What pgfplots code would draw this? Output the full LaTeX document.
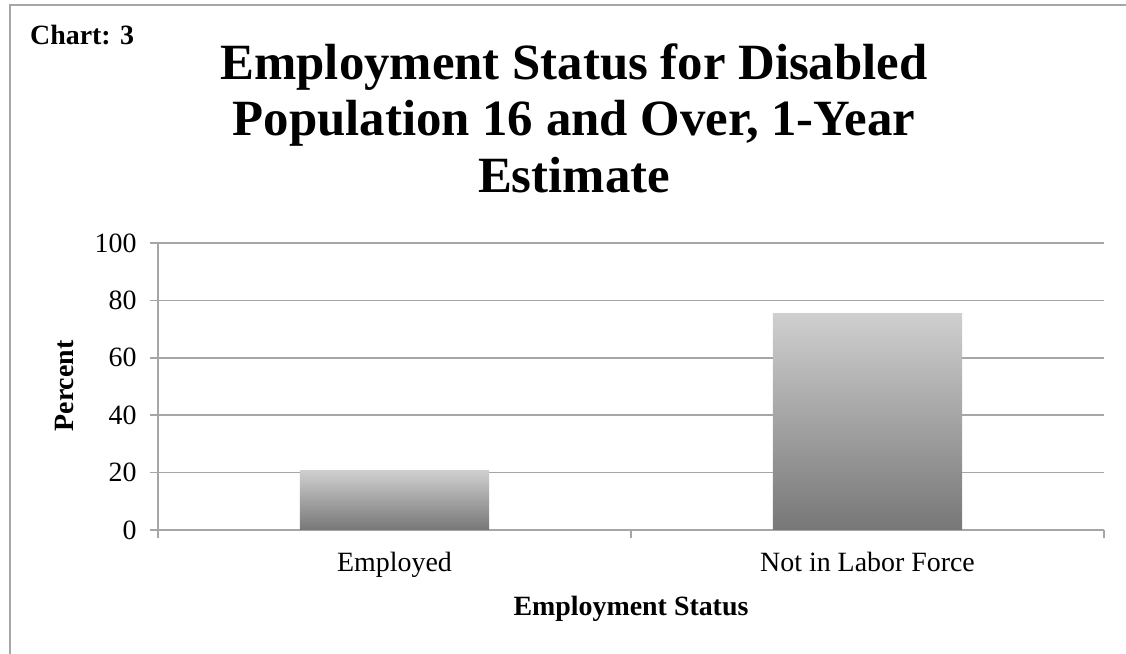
\documentclass[border=0pt]{standalone}
\usepackage{pgfplots}
\pgfplotsset{compat=1.18}
\usepackage{fontspec}
\setmainfont{Liberation Serif}
\definecolor{gridc}{HTML}{A6A6A6}
\definecolor{bartop}{HTML}{CFCFCF}
\definecolor{barbot}{HTML}{777777}
\begin{document}
\begin{tikzpicture}
\useasboundingbox (0,0) rectangle (1126bp,654bp);
\draw[color=gridc, line width=1.5bp] (10bp,0) -- (10bp,649bp) -- (1126bp,649bp);
\node[anchor=base west, inner sep=0, font=\bfseries\fontsize{28}{32}\selectfont] at (30bp,609bp) {Chart: 3};
\node[anchor=base, inner sep=0, font=\bfseries\fontsize{51}{56}\selectfont] at (574bp,574bp) {Employment Status for Disabled};
\node[anchor=base, inner sep=0, font=\bfseries\fontsize{51}{56}\selectfont] at (574bp,518bp) {Population 16 and Over, 1-Year};
\node[anchor=base, inner sep=0, font=\bfseries\fontsize{51}{56}\selectfont] at (574bp,461bp) {Estimate};
\node[anchor=base, inner sep=0, font=\bfseries\fontsize{28}{32}\selectfont] at (631bp,39bp) {Employment Status};
\node[anchor=base, rotate=90, inner sep=0, font=\bfseries\fontsize{28}{32}\selectfont] at (73bp,268bp) {Percent};
\begin{axis}[
  at={(158bp,124bp)}, anchor=south west,
  scale only axis, width=946bp, height=287bp,
  xmin=-0.5, xmax=1.5, ymin=0, ymax=100,
  ytick={0,20,...,100},
  xtick={0,1}, xticklabels={Employed, Not in Labor Force},
  minor xtick={-0.5,0.5,1.5},
  axis x line*=bottom, axis y line*=left,
  axis line style={-, draw=gridc, line width=1.5bp},
  ymajorgrids, grid style={draw=gridc, line width=1.5bp},
  tick align=outside, major tick length=8bp, minor tick length=8bp,
  tick style={draw=gridc, line width=1.5bp},
  major x tick style={draw=none},
  ticklabel style={font=\fontsize{28}{32}\selectfont},
  /pgf/number format/assume math mode=true,
  yticklabel style={xshift=-10bp},
  xticklabel style={yshift=-11bp},
  ybar, bar width=0.4, bar shift=0pt,
]
\addplot[draw=none, top color=bartop, bottom color=barbot] coordinates {(0,20.7)};
\addplot[draw=none, top color=bartop, bottom color=barbot] coordinates {(1,75.4)};
\end{axis}
\end{tikzpicture}
\end{document}
